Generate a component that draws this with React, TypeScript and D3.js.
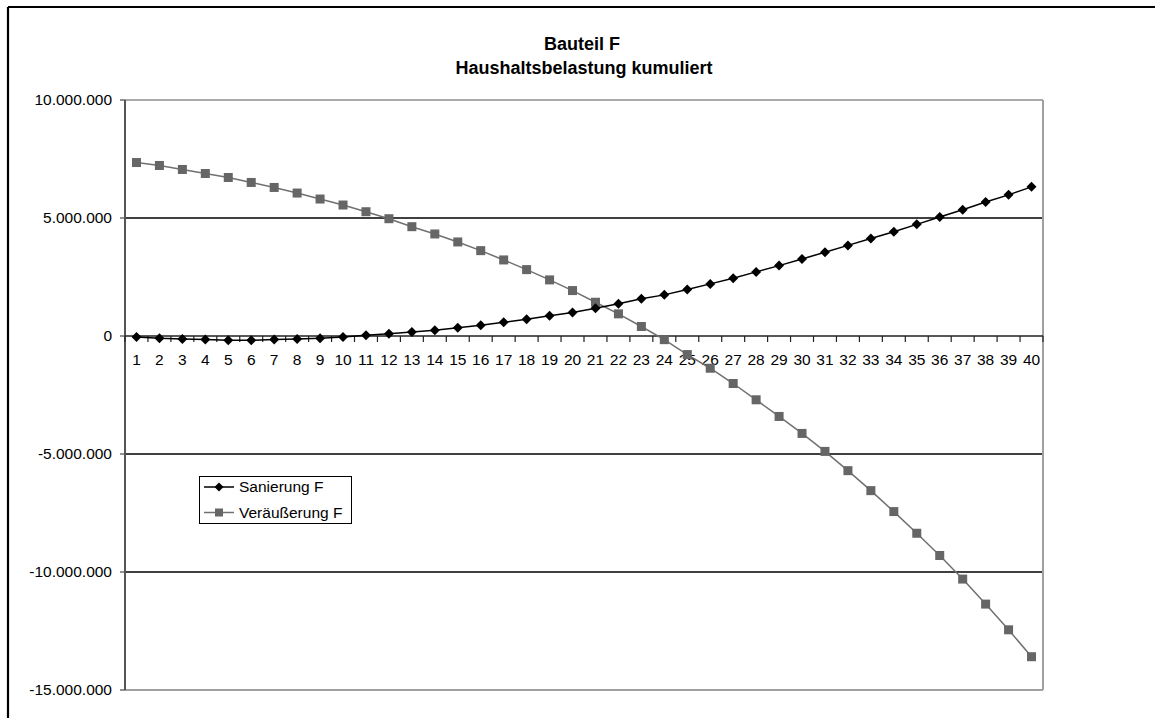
import React from "react";
import * as d3 from "d3";

// Jahre 1..40 (Kategorienachse)
const years: string[] = [
  "1", "2", "3", "4", "5", "6", "7", "8", "9", "10",
  "11", "12", "13", "14", "15", "16", "17", "18", "19", "20",
  "21", "22", "23", "24", "25", "26", "27", "28", "29", "30",
  "31", "32", "33", "34", "35", "36", "37", "38", "39", "40",
];

// Kumulierte Haushaltsbelastung – Sanierung F
const sanierung: number[] = [
  -45000, -100000, -130000, -150000, -180000, -180000, -150000, -130000, -100000, -40000,
  30000, 100000, 170000, 240000, 350000, 457000, 584000, 711000, 854000, 994000,
  1176000, 1362000, 1574000, 1743000, 1967000, 2208000, 2445000, 2716000, 2982000, 3266000,
  3550000, 3840000, 4130000, 4420000, 4730000, 5040000, 5350000, 5680000, 5980000, 6320000,
];

// Kumulierte Haushaltsbelastung – Veräußerung F
const veraeusserung: number[] = [
  7350000, 7225000, 7056000, 6886000, 6717000, 6506000, 6294000, 6057000, 5804000, 5550000,
  5266000, 4970000, 4632000, 4323000, 3985000, 3617000, 3223000, 2813000, 2377000, 1925000,
  1430000, 939000, 402000, -155000, -787000, -1366000, -2013000, -2703000, -3409000, -4128000,
  -4890000, -5706000, -6552000, -7440000, -8358000, -9300000, -10300000, -11360000, -12450000, -13590000,
];

const yTicks: number[] = [10000000, 5000000, 0, -5000000, -10000000, -15000000];
const gridValues: number[] = [5000000, -5000000, -10000000];

const titleLines: string[] = ["Bauteil F", "Haushaltsbelastung kumuliert"];
const seriesNames: string[] = ["Sanierung F", "Veräußerung F"];

const W = 1155;
const H = 718;
const plot = { left: 125, right: 1043, top: 100, bottom: 690 };
const FONT = "'Liberation Sans', Arial, sans-serif";

const de = d3.formatLocale({
  decimal: ",",
  thousands: ".",
  grouping: [3],
  currency: ["", " €"],
  minus: "-",
});
const fmt = de.format(",d");

export default function App() {
  const x = d3.scaleBand<string>().domain(years).range([plot.left, plot.right]).padding(0);
  const y = d3.scaleLinear().domain([-15000000, 10000000]).range([plot.bottom, plot.top]);
  const cx = (i: number) => (x(years[i]) as number) + x.bandwidth() / 2;

  const line = d3
    .line<number>()
    .x((_, i) => cx(i))
    .y((d) => y(d));

  const y0 = y(0);
  const boundaries = years.map((c) => x(c) as number).concat([plot.right]);

  const diamond = (px: number, py: number, r: number) =>
    `M${px},${py - r}L${px + r},${py}L${px},${py + r}L${px - r},${py}Z`;

  const sq = 9;

  return (
    <svg
      width={W}
      height={H}
      style={{ position: "absolute", left: 0, top: 0, background: "#fff", overflow: "hidden" }}
      fontFamily={FONT}
    >
      {/* Diagrammrahmen (oben und links sichtbar) */}
      <line x1={8} x2={W} y1={7} y2={7} stroke="#000" strokeWidth={2.2} />
      <line x1={8} x2={8} y1={7} y2={H} stroke="#000" strokeWidth={2.2} />

      {/* Titel */}
      <text x={582} y={50} textAnchor="middle" fontSize={18} fontWeight="bold" fill="#000">
        {titleLines[0]}
      </text>
      <text x={584} y={74} textAnchor="middle" fontSize={18} fontWeight="bold" fill="#000">
        {titleLines[1]}
      </text>

      {/* Gitternetzlinien */}
      {gridValues.map((v) => (
        <line key={v} x1={plot.left} x2={plot.right} y1={y(v)} y2={y(v)} stroke="#000" strokeWidth={1.3} />
      ))}

      {/* Zeichnungsflächenrand */}
      <line x1={plot.left} x2={plot.right} y1={plot.top} y2={plot.top} stroke="#8c8c8c" strokeWidth={1.6} />
      <line x1={plot.right} x2={plot.right} y1={plot.top} y2={plot.bottom} stroke="#a0a0a0" strokeWidth={2} />
      <line x1={plot.left} x2={plot.right} y1={plot.bottom} y2={plot.bottom} stroke="#a0a0a0" strokeWidth={2} />

      {/* Y-Achse */}
      <line x1={plot.left} x2={plot.left} y1={plot.top} y2={plot.bottom} stroke="#555" strokeWidth={2} />
      {yTicks.map((v) => (
        <g key={v}>
          <line x1={plot.left - 5} x2={plot.left} y1={y(v)} y2={y(v)} stroke="#555" strokeWidth={1.3} />
          <text x={112} y={y(v)} dy="0.35em" textAnchor="end" fontSize={15.5} fill="#000">
            {fmt(v)}
          </text>
        </g>
      ))}

      {/* X-Achse (Nulllinie) */}
      <line x1={plot.left} x2={plot.right} y1={y0} y2={y0} stroke="#222" strokeWidth={1.5} />
      {boundaries.map((bx, i) => (
        <line key={i} x1={bx} x2={bx} y1={y0} y2={y0 + 6} stroke="#222" strokeWidth={1.2} />
      ))}
      {years.map((c, i) => (
        <text key={c} x={cx(i)} y={365} textAnchor="middle" fontSize={15.5} fill="#000">
          {c}
        </text>
      ))}

      {/* Veräußerung F */}
      <path d={line(veraeusserung) as string} fill="none" stroke="#707070" strokeWidth={1.5} />
      {veraeusserung.map((v, i) => (
        <rect key={i} x={cx(i) - sq / 2} y={y(v) - sq / 2} width={sq} height={sq} fill="#666" />
      ))}

      {/* Sanierung F */}
      <path d={line(sanierung) as string} fill="none" stroke="#000" strokeWidth={1.5} />
      {sanierung.map((v, i) => (
        <path key={i} d={diamond(cx(i), y(v), 5)} fill="#000" />
      ))}

      {/* Legende */}
      <rect x={199.5} y={476.5} width={152} height={47} fill="#fff" stroke="#000" strokeWidth={1} />
      <line x1={204} x2={234} y1={487} y2={487} stroke="#000" strokeWidth={1.5} />
      <path d={diamond(219, 487, 4.5)} fill="#000" />
      <text x={239} y={487} dy="0.35em" fontSize={15.5} fill="#000">
        {seriesNames[0]}
      </text>
      <line x1={204} x2={234} y1={512.5} y2={512.5} stroke="#707070" strokeWidth={1.5} />
      <rect x={219 - 4} y={512.5 - 4} width={8} height={8} fill="#666" />
      <text x={239} y={512.5} dy="0.35em" fontSize={15.5} fill="#000">
        {seriesNames[1]}
      </text>
    </svg>
  );
}
